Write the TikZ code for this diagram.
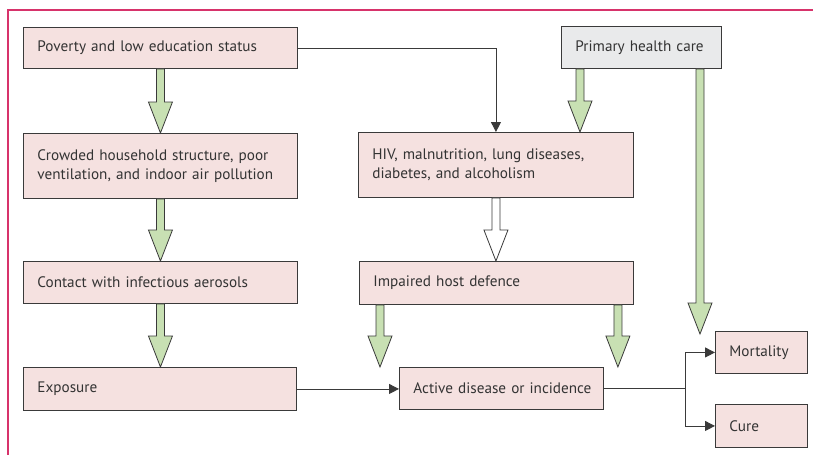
\documentclass[tikz,border=0pt]{standalone}
\usepackage{fontspec}
\setmainfont{PT Sans}
\usepackage{tikz}
\usetikzlibrary{arrows.meta,calc}
\definecolor{boxpink}{HTML}{F5E1E0}
\definecolor{boxgray}{HTML}{E9EAEB}
\definecolor{fatgreen}{HTML}{C8E0B3}
\definecolor{linegray}{HTML}{3A3A3A}
\definecolor{textgray}{HTML}{333333}
\definecolor{framered}{HTML}{D7336B}
\tikzset{box/.style={draw=linegray, fill=boxpink, line width=0.9pt, anchor=north west, align=left, inner xsep=14pt, inner ysep=0pt, text=textgray, font=\fontsize{15.2}{19}\selectfont},
  conn/.style={draw=linegray, line width=0.9pt, -{Triangle[length=10pt,width=10pt]}},
  fat/.style={draw=linegray, line width=0.8pt, fill=fatgreen},
  hollow/.style={draw=linegray, line width=0.8pt, fill=white}}
% block arrow straight down from #2 to the height of #3
\newcommand{\fatarrow}[3]{%
  \path let \p1=#2, \p2=#3 in [#1]
    (\x1-4pt,\y1) -- (\x1-4pt,\y2+31pt) -- (\x1-12pt,\y2+31pt) -- (\x1,\y2)
    -- (\x1+12pt,\y2+31pt) -- (\x1+4pt,\y2+31pt) -- (\x1+4pt,\y1) -- cycle;}

\begin{document}
\begin{tikzpicture}[x=1pt, y=-1pt]
      \useasboundingbox (0,0) rectangle (813,455);
      \draw [framered, line width=1.2pt] (813,10) -- (8,10) -- (8,455);
      % left column
      \node [box, text width=246pt, minimum height=41pt] (pov) at (23,27) {Poverty and low education status};
      \node [box, text width=246pt, minimum height=65pt] (crowd) at (23,133) {Crowded household structure, poor\\ventilation, and indoor air pollution};
      \node [box, text width=246pt, minimum height=42pt] (contact) at (23,261) {Contact with infectious aerosols};
      \node [box, text width=245pt, minimum height=43pt] (expo) at (23,367) {Exposure};
      % middle column
      \node [box, text width=247pt, minimum height=65pt] (hiv) at (358,132) {HIV, malnutrition, lung diseases,\\diabetes, and alcoholism};
      \node [box, text width=246pt, minimum height=43pt] (impair) at (359,261) {Impaired host defence};
      \node [box, text width=176pt, minimum height=42pt] (act) at (399,367) {\mbox{Active disease or incidence}};
      % right column
      \node [box, fill=boxgray, text width=132pt, minimum height=42pt] (prim) at (561,26) {Primary health care};
      \node [box, text width=64pt, minimum height=42pt] (mort) at (715,331) {Mortality};
      \node [box, text width=64pt, minimum height=43pt] (cure) at (715,404) {Cure};
      \coordinate (split) at ($(act.east)+(82,0)$);

      \fatarrow{fat}{(pov.south)}{(crowd.north)}
      \fatarrow{fat}{(crowd.south)}{(contact.north)}
      \fatarrow{fat}{(contact.south)}{(expo.north)}
      \fatarrow{hollow}{(hiv.south)}{(impair.north)}
      \fatarrow{fat}{($(impair.south west)+(21,0)$)}{(act.north)}
      \fatarrow{fat}{($(impair.south east)+(-16,0)$)}{(act.north)}
      \fatarrow{fat}{($(prim.south west)+(19,0)$)}{(hiv.north)}
      \fatarrow{fat}{($(prim.south west)+(139,0)$)}{([yshift=-3pt]mort.north)}

      \draw [conn] (pov.east) -| (hiv.north);
      \draw [conn] (expo.east) -- (expo.east -| act.west);
      \draw [draw=linegray, line width=0.9pt] (act.east) -- (split);
      \draw [conn] (split) |- (mort.west);
      \draw [conn] (split) |- (cure.west);
    \end{tikzpicture}
\end{document}
